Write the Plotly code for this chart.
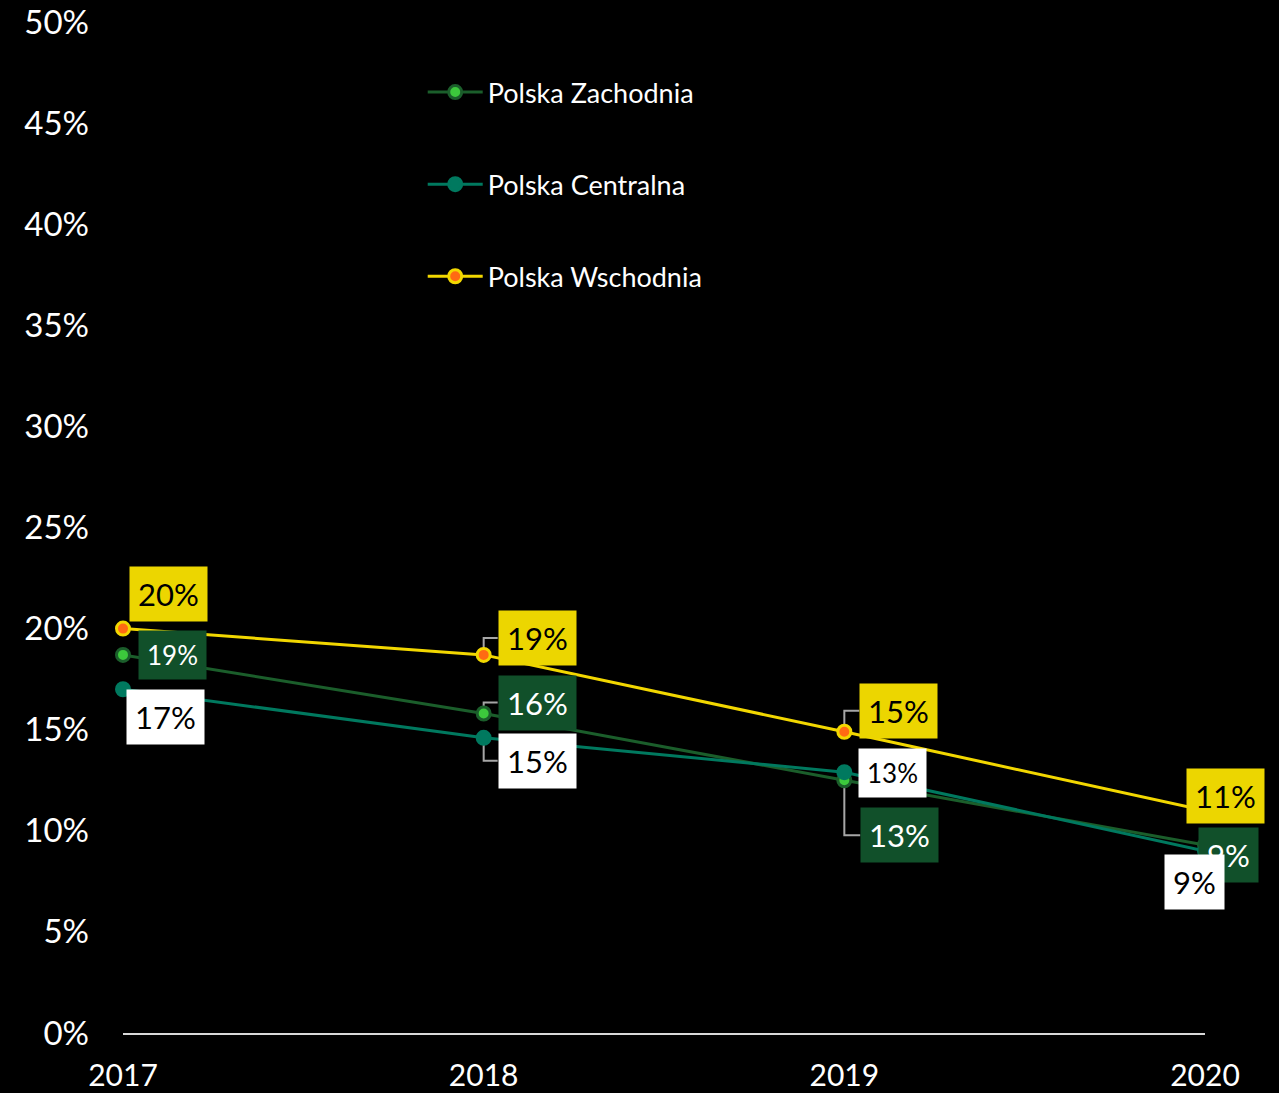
import plotly.graph_objects as go

# %%
# Data
years = [2017, 2018, 2019, 2020]
zachodnia = [18.7, 15.8, 12.5, 9.3]
centralna = [17.0, 14.6, 12.9, 9.0]
wschodnia = [20.0, 18.7, 14.9, 11.0]

zachodnia_labels = ["19%", "16%", "13%", "9%"]
centralna_labels = ["17%", "15%", "13%", "9%"]
wschodnia_labels = ["20%", "19%", "15%", "11%"]

y_ticks = [0, 5, 10, 15, 20, 25, 30, 35, 40, 45, 50]
y_tick_labels = [f"{v}%" for v in y_ticks]

FONT = "Lato"

# series styles: name, values, labels, line colour, marker fill, marker border, box colour, text colour
series = [
    ("Polska Zachodnia", zachodnia, zachodnia_labels, "#1b5e2b", "#3cc93c", "#1b5e2b", "#11502a", "white"),
    ("Polska Centralna", centralna, centralna_labels, "#00795f", "#00795f", "#00795f", "white", "black"),
    ("Polska Wschodnia", wschodnia, wschodnia_labels, "#f2d700", "#ff6a13", "#f2d700", "#ecd600", "black"),
]

# label placement per series/year: (xshift px, yshift px, xanchor, font size, connector)
placement = {
    "Polska Zachodnia": [(15, 0, "left", 26, False), (14, 11, "left", 31, True),
                         (16, -55, "left", 31, True), (23, -10, "center", 31, False)],
    "Polska Centralna": [(42, -28, "center", 31, False), (14, -23, "left", 31, True),
                         (14, -1, "left", 26, False), (-11, -31, "center", 31, False)],
    "Polska Wschodnia": [(45, 35, "center", 31, False), (14, 17, "left", 31, True),
                         (15, 21, "left", 31, True), (20, 15, "center", 31, False)],
}

fig = go.Figure()
for name, vals, labels, lc, mfill, mline, box, txt in series:
    fig.add_trace(
        go.Scatter(
            x=years,
            y=vals,
            name=name,
            legendgroup=name,
            mode="lines+markers",
            line=dict(color=lc, width=3),
            marker=dict(size=13, color=mfill, line=dict(color=mline, width=3)),
            cliponaxis=False,
        )
    )

annotations = []
shapes = []
for name, vals, labels, lc, mfill, mline, box, txt in series:
    for yr, v, lab, (dx, dy, xa, fs, conn) in zip(years, vals, labels, placement[name]):
        annotations.append(
            dict(
                x=yr, y=v, xref="x", yref="y", text=lab, showarrow=False,
                xanchor=xa, yanchor="middle", xshift=dx, yshift=dy,
                bgcolor=box, borderpad=8,
                font=dict(family=FONT, size=fs, color=txt),
            )
        )
        if conn:
            # elbow connector from point to label box
            shapes.append(
                dict(
                    type="path", xref="x", yref="y",
                    xsizemode="pixel", ysizemode="pixel",
                    xanchor=yr, yanchor=v,
                    path=f"M0,0 L0,{dy} L{dx},{dy}",
                    line=dict(color="#a6a6a6", width=2),
                    layer="below",
                )
            )

fig.update_layout(
    width=1279,
    height=1093,
    paper_bgcolor="black",
    plot_bgcolor="black",
    margin=dict(l=123, r=74, t=22, b=60),
    font=dict(family=FONT, color="white"),
    showlegend=True,
    legend=dict(
        x=0.277, y=0.9545, xanchor="left", yanchor="top",
        bgcolor="rgba(0,0,0,0)",
        font=dict(family=FONT, size=27, color="white"),
        tracegroupgap=54,
        traceorder="grouped",
        itemwidth=55,
    ),
    annotations=annotations,
    shapes=shapes,
)
fig.update_xaxes(
    range=[2017, 2020],
    tickvals=years,
    ticktext=[str(y) for y in years],
    showgrid=False,
    zeroline=False,
    showline=True,
    linecolor="#d9d9d9",
    linewidth=2,
    automargin=False,
    ticklabelstandoff=15,
    tickfont=dict(family=FONT, size=30, color="white"),
)
fig.update_yaxes(
    range=[0, 50],
    tickvals=y_ticks,
    ticktext=y_tick_labels,
    showgrid=False,
    zeroline=False,
    showline=False,
    automargin=False,
    ticklabelstandoff=33,
    tickfont=dict(family=FONT, size=33, color="white"),
)

# remove the page margin so the figure fills the window
fig.write_html(
    "out.html",
    config={"displayModeBar": False},
    post_script="document.body.style.margin='0';document.body.style.background='black';",
)
